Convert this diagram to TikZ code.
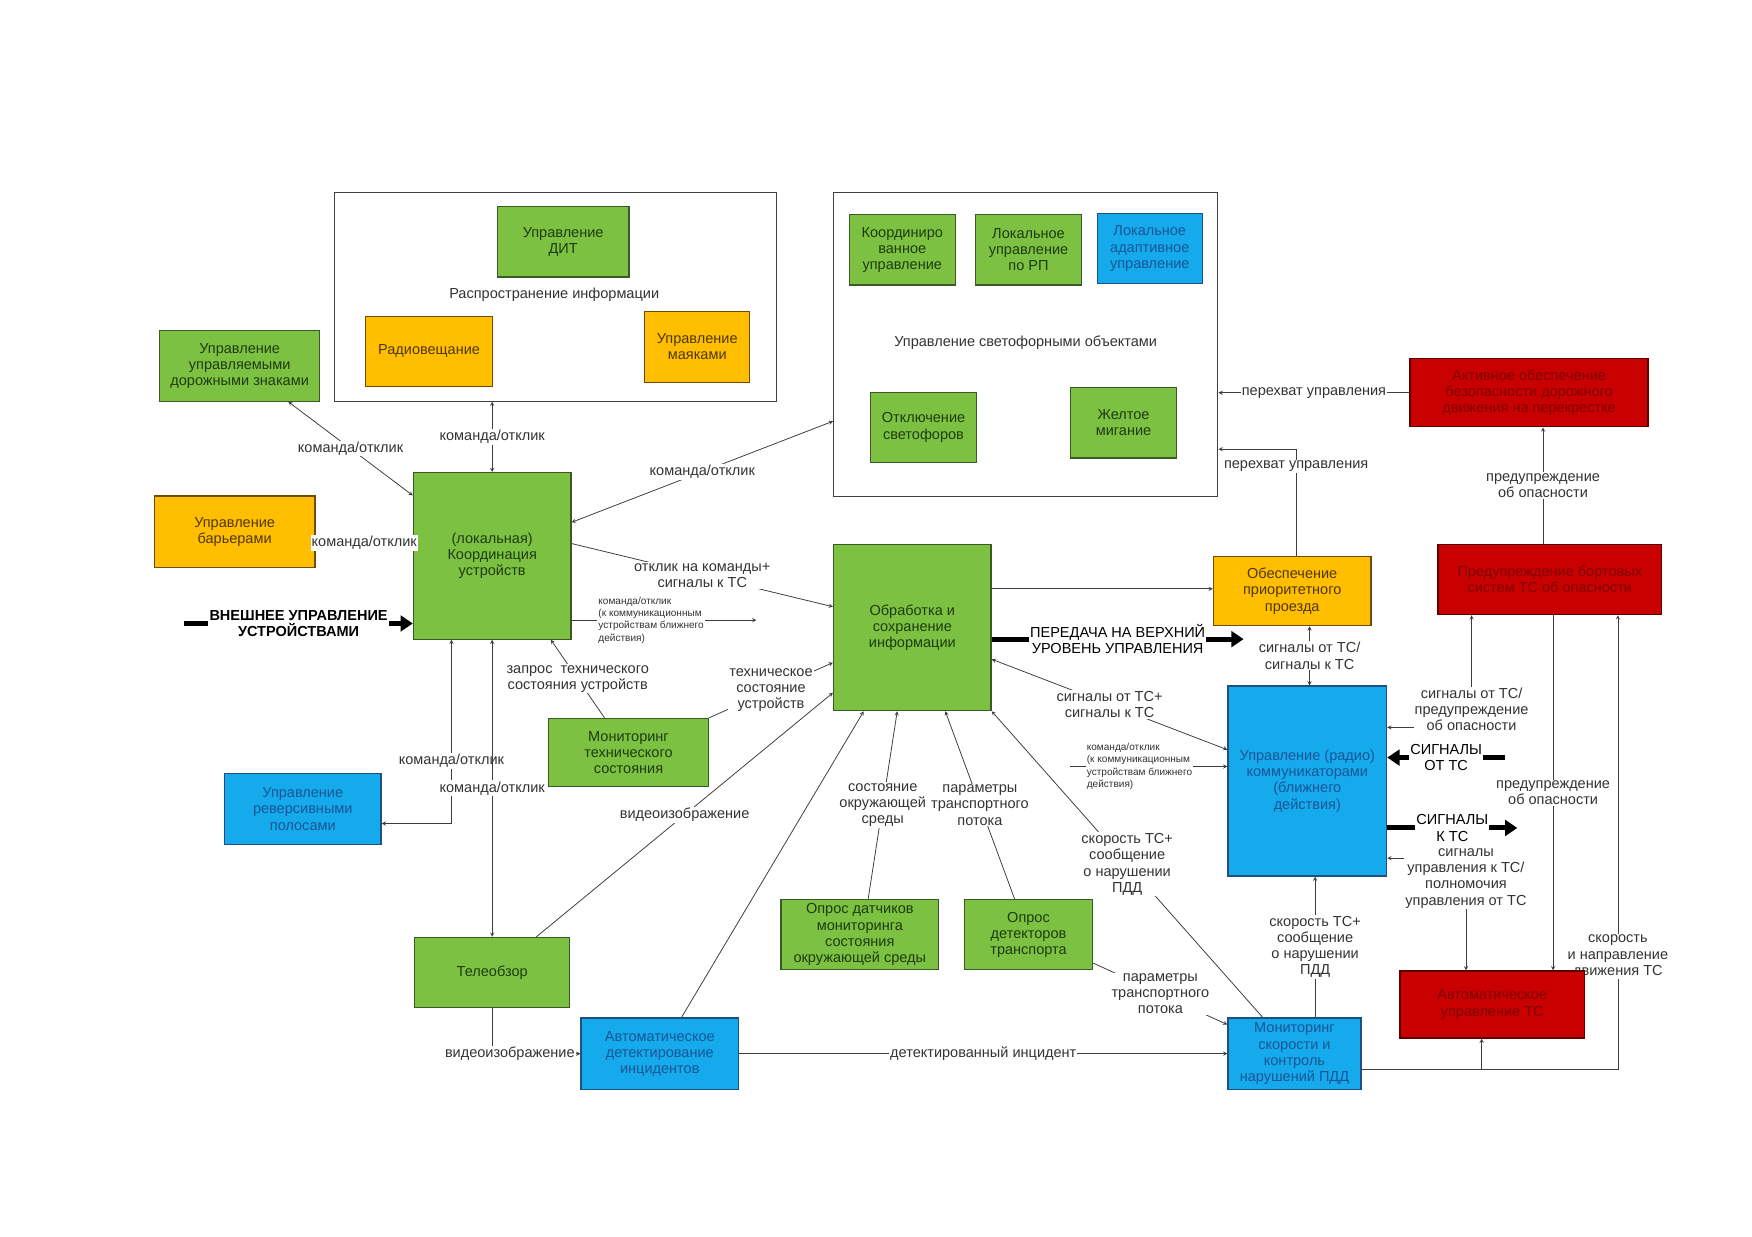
\documentclass[tikz,border=0pt]{standalone}
\usepackage{fontspec}
\setmainfont{Liberation Sans}
\usetikzlibrary{arrows.meta}
\definecolor{gfill}{RGB}{125,193,66}
\definecolor{gline}{RGB}{60,90,40}
\definecolor{gtext}{RGB}{30,60,15}
\definecolor{ofill}{RGB}{255,190,0}
\definecolor{oline}{RGB}{110,75,10}
\definecolor{otext}{RGB}{80,55,0}
\definecolor{bfill}{RGB}{20,170,235}
\definecolor{bline}{RGB}{30,80,130}
\definecolor{btext}{RGB}{25,85,150}
\definecolor{rfill}{RGB}{200,0,0}
\definecolor{rline}{RGB}{90,0,0}
\definecolor{rtext}{RGB}{130,0,0}
\definecolor{linec}{RGB}{60,60,60}
\newcommand\boxfont{\fontsize{13}{14.5}\selectfont}
\newcommand\tinyfont{\fontsize{9}{11}\selectfont}
\begin{document}
\begin{tikzpicture}[>=stealth,x=1pt,y=-1pt,line width=0.7pt,
	sz/.style 2 args={minimum width=#1pt,minimum height=#2pt},
	box/.style={draw,line width=1.1pt,align=center,font=\boxfont,inner sep=2pt},
	gbox/.style={box,fill=gfill,draw=gline,text=gtext},
	obox/.style={box,fill=ofill,draw=oline,text=otext},
	bbox/.style={box,fill=bfill,draw=bline,text=btext},
	rbox/.style={box,fill=rfill,draw=rline,text=rtext},
	cont/.style={draw=black!75,line width=1pt,fill=white},
	lbl/.style={fill=white,inner sep=1pt,align=center,font=\boxfont,text=black!80},
	smalllbl/.style={fill=white,inner sep=1pt,align=left,font=\tinyfont,text=black!80},
	conn/.style={draw=linec},
	fat/.style={draw=black,line width=4.5pt,-{Triangle[length=11pt,width=14pt]}}]
	\useasboundingbox (0,0) rectangle (1568,1107);
	% группы
	\node[cont,sz={396}{187}] (distr) at (497,265.5) {};
	\node[font=\boxfont,text=black!80] (distrlbl) at (496,264) {Распространение информации};
	\node[cont,sz={344}{272}] (tlc) at (918,308) {};
	\node[font=\boxfont,text=black!80] (tlclbl) at (918,307) {Управление светофорными объектами};
	% блоки
	\node[gbox,sz={118}{63}] (dit) at (504,216.5) {Управление\\ДИТ};
	\node[obox,sz={114}{63}] (radio) at (384,314.5) {Радиовещание};
	\node[obox,sz={94}{63}] (beacons) at (624,310.5) {Управление\\маяками};
	\node[gbox,sz={143}{63}] (signs) at (214.5,327.5) {Управление\\управляемыми\\дорожными знаками};
	\node[gbox,sz={95}{63}] (coordctl) at (807.5,223.5) {Координиро\\ванное\\управление};
	\node[gbox,sz={95}{63}] (localrp) at (920.5,223.5) {Локальное\\управление\\по РП};
	\node[bbox,sz={94}{63}] (adapt) at (1029,222.5) {Локальное\\адаптивное\\управление};
	\node[gbox,sz={95}{63}] (lightsoff) at (826.5,382.5) {Отключение\\светофоров};
	\node[gbox,sz={95}{63}] (yellow) at (1005.5,378.5) {Желтое\\мигание};
	\node[rbox,sz={213}{61}] (active) at (1368.5,351.5) {Активное обеспечение\\безопасности дорожного\\движения на перекрестке};
	\node[obox,sz={144}{64}] (barriers) at (210,476) {Управление\\барьерами};
	\node[gbox,sz={141}{149}] (coord) at (440.5,497.5) {(локальная)\\Координация\\устройств};
	\node[gbox,sz={141}{149}] (proc) at (816.5,561.5) {Обработка и\\сохранение\\информации};
	\node[obox,sz={141}{62}] (prio) at (1156.5,529) {Обеспечение\\приоритетного\\проезда};
	\node[rbox,sz={200}{63}] (warn) at (1387,518.5) {Предупреждение бортовых\\систем ТС об опасности};
	\node[bbox,sz={142}{170}] (comm) at (1170,699) {Управление (радио)\\коммуникаторами\\(ближнего\\действия)};
	\node[gbox,sz={143}{61}] (techmon) at (562.5,673.5) {Мониторинг\\технического\\состояния};
	\node[bbox,sz={140}{64}] (revers) at (271,724) {Управление\\реверсивными\\полосами};
	\node[gbox,sz={141}{63}] (envpoll) at (769.5,836.5) {Опрос датчиков\\мониторинга\\состояния\\окружающей среды};
	\node[gbox,sz={115}{63}] (detpoll) at (920.5,836.5) {Опрос\\детекторов\\транспорта};
	\node[gbox,sz={139}{63}] (tele) at (440.5,870.5) {Телеобзор};
	\node[bbox,sz={141}{64}] (autodet) at (590.5,943) {Автоматическое\\детектирование\\инцидентов};
	\node[bbox,sz={119}{64}] (speedmon) at (1158.5,943) {Мониторинг\\скорости и\\контроль\\нарушений ПДД};
	% связи вокруг координации устройств
	\draw[conn,<->] (coord.north) -- (coord.north |- distr.south) node[midway,lbl] {команда/отклик};
	\draw[conn,<->] ([xshift=43.5pt]signs.south) -- ([yshift=-21pt]coord.north west) node[midway,lbl] {команда/отклик};
	\draw[conn,<->] ([yshift=-45pt]coord.north east) -- ([yshift=-69pt]tlc.west) node[midway,lbl] {команда/отклик};
	\draw[conn] ([yshift=-10pt]barriers.east) coordinate (b1) -- (b1 -| coord.west) node[midway,lbl] {команда/отклик};
	\coordinate (ext) at (165,558);
	\draw[fat] (ext) -- (ext -| coord.west) node[midway,lbl,font=\boxfont\bfseries,text=black] {ВНЕШНЕЕ УПРАВЛЕНИЕ\\УСТРОЙСТВАМИ};
	\draw[conn,->] ([yshift=-64pt]coord.north east) -- ([yshift=18.5pt]proc.west) node[midway,lbl] {отклик на команды+\\сигналы к ТС};
	\coordinate (g2) at (677,555);
	\draw[conn,->] ([yshift=-57.5pt]coord.east) -- (g2) node[pos=0.43,smalllbl] {команда/отклик\\(к коммуникационным\\устройствам ближнего\\действия)};
	\draw[conn,->] ([xshift=-21.5pt]techmon.north) -- ([xshift=52.5pt]coord.south) node[midway,lbl] {запрос~ технического\\состояния устройств};
	\draw[conn,->] (techmon.north east) -- ([yshift=-31.5pt]proc.west) node[midway,lbl] {техническое\\состояние\\устройств};
	\draw[conn,<->] ([yshift=-13pt]revers.east) -| ([xshift=-36.5pt]coord.south) node[pos=0.67,lbl] {команда/отклик};
	\draw[conn,<->] (coord.south) -- (tele.north) node[midway,lbl] {команда/отклик};
	% видео и датчики
	\draw[conn,->] ([xshift=39.5pt]tele.north) -- ([yshift=-58.5pt]proc.west) node[midway,lbl] {видеоизображение};
	\draw[conn,->] (tele.south) |- (autodet.west) node[pos=0.6,lbl] {видеоизображение};
	\draw[conn,->] ([xshift=19.5pt]autodet.north) -- ([xshift=-43.5pt]proc.south);
	\draw[conn,->] (autodet.east) -- (speedmon.west) node[midway,lbl] {детектированный инцидент};
	\draw[conn,->] ([xshift=7.5pt]envpoll.north) -- ([xshift=-13.5pt]proc.south) node[midway,lbl] {состояние\\окружающей\\среды};
	\draw[conn,->] ([xshift=-12.5pt]detpoll.north) -- ([xshift=29.5pt]proc.south) node[midway,lbl] {параметры\\транспортного\\потока};
	\draw[conn,->] ([xshift=-28.5pt]speedmon.north) -- (proc.south east) node[midway,lbl] {скорость ТС+\\сообщение\\о нарушении\\ПДД};
	\draw[conn,->] ([yshift=-25.5pt]detpoll.east) -- ([yshift=26pt]speedmon.west) node[midway,lbl] {параметры\\транспортного\\потока};
	\draw[conn,->] ([xshift=18.5pt]speedmon.north) -- ([xshift=7pt]comm.south) node[midway,lbl] {скорость ТС+\\сообщение\\о нарушении\\ПДД};
	% обработка и коммуникаторы
	\draw[conn,->] ([yshift=34.5pt]proc.east) coordinate (u1) -- (u1 -| prio.west);
	\coordinate (v2) at (1113,572);
	\draw[fat] ([yshift=-10.5pt]proc.east) -- (v2) node[midway,lbl,text=black] {ПЕРЕДАЧА НА ВЕРХНИЙ\\УРОВЕНЬ УПРАВЛЕНИЯ};
	\draw[conn,<->] ([yshift=-28.5pt]proc.east) -- ([yshift=28pt]comm.west) node[midway,lbl] {сигналы от ТС+\\сигналы к ТС};
	\coordinate (h1) at (958,686);
	\draw[conn,->] (h1) -- (h1 -| comm.west) node[pos=0.44,smalllbl] {команда/отклик\\(к коммуникационным\\устройствам ближнего\\действия)};
	\draw[conn,<->] ([xshift=15.5pt]prio.south) coordinate (x1) -- (x1 |- comm.north) node[midway,lbl] {сигналы от ТС/\\сигналы к ТС};
	\draw[conn,->] ([xshift=3.5pt]prio.north) |- ([yshift=-94pt]tlc.east) node[pos=0.42,lbl] {перехват управления};
	\draw[conn,->] (active.west) -- (active.west -| tlc.east) node[midway,lbl] {перехват управления};
	\draw[conn,->] ([xshift=-6pt]warn.north) coordinate (a1) -- (a1 |- active.south) node[midway,lbl] {предупреждение\\об опасности};
	\draw[conn,<->] ([xshift=-70pt]warn.south) |- ([yshift=48pt]comm.east) node[pos=0.42,lbl] {сигналы от ТС/\\предупреждение\\об опасности};
	\coordinate (cc) at (1347,678);
	\draw[fat] (cc) -- (cc -| comm.east) node[midway,lbl,text=black] {СИГНАЛЫ\\ОТ ТС};
	\coordinate (dd) at (1358,741);
	\draw[fat] ([yshift=-42pt]comm.east) -- (dd) node[midway,lbl,text=black] {СИГНАЛЫ\\К ТС};
	% скорость и направление (под блоком автоуправления)
	\draw[conn,->] ([yshift=-14pt]speedmon.east) coordinate (s1) -| ([xshift=61pt]warn.south) node[pos=0.624,lbl] {скорость\\и направление\\движения ТС};
	\node[rbox,sz={165}{60}] (autoctl) at (1335.5,899) {Автоматическое\\управление ТС};
	\coordinate (t1) at ([xshift=-9.5pt]autoctl.south);
	\draw[conn,->] (s1 -| t1) -- (t1);
	\draw[conn,->] ([xshift=3pt]warn.south) coordinate (w1) -- (w1 |- autoctl.north) node[midway,lbl] {предупреждение\\об опасности};
	\draw[conn,<->] ([yshift=-69pt]comm.east) -| ([xshift=-23.5pt]autoctl.north) node[pos=0.59,lbl] {сигналы\\управления к ТС/\\полномочия\\управления от ТС};
\end{tikzpicture}
\end{document}
